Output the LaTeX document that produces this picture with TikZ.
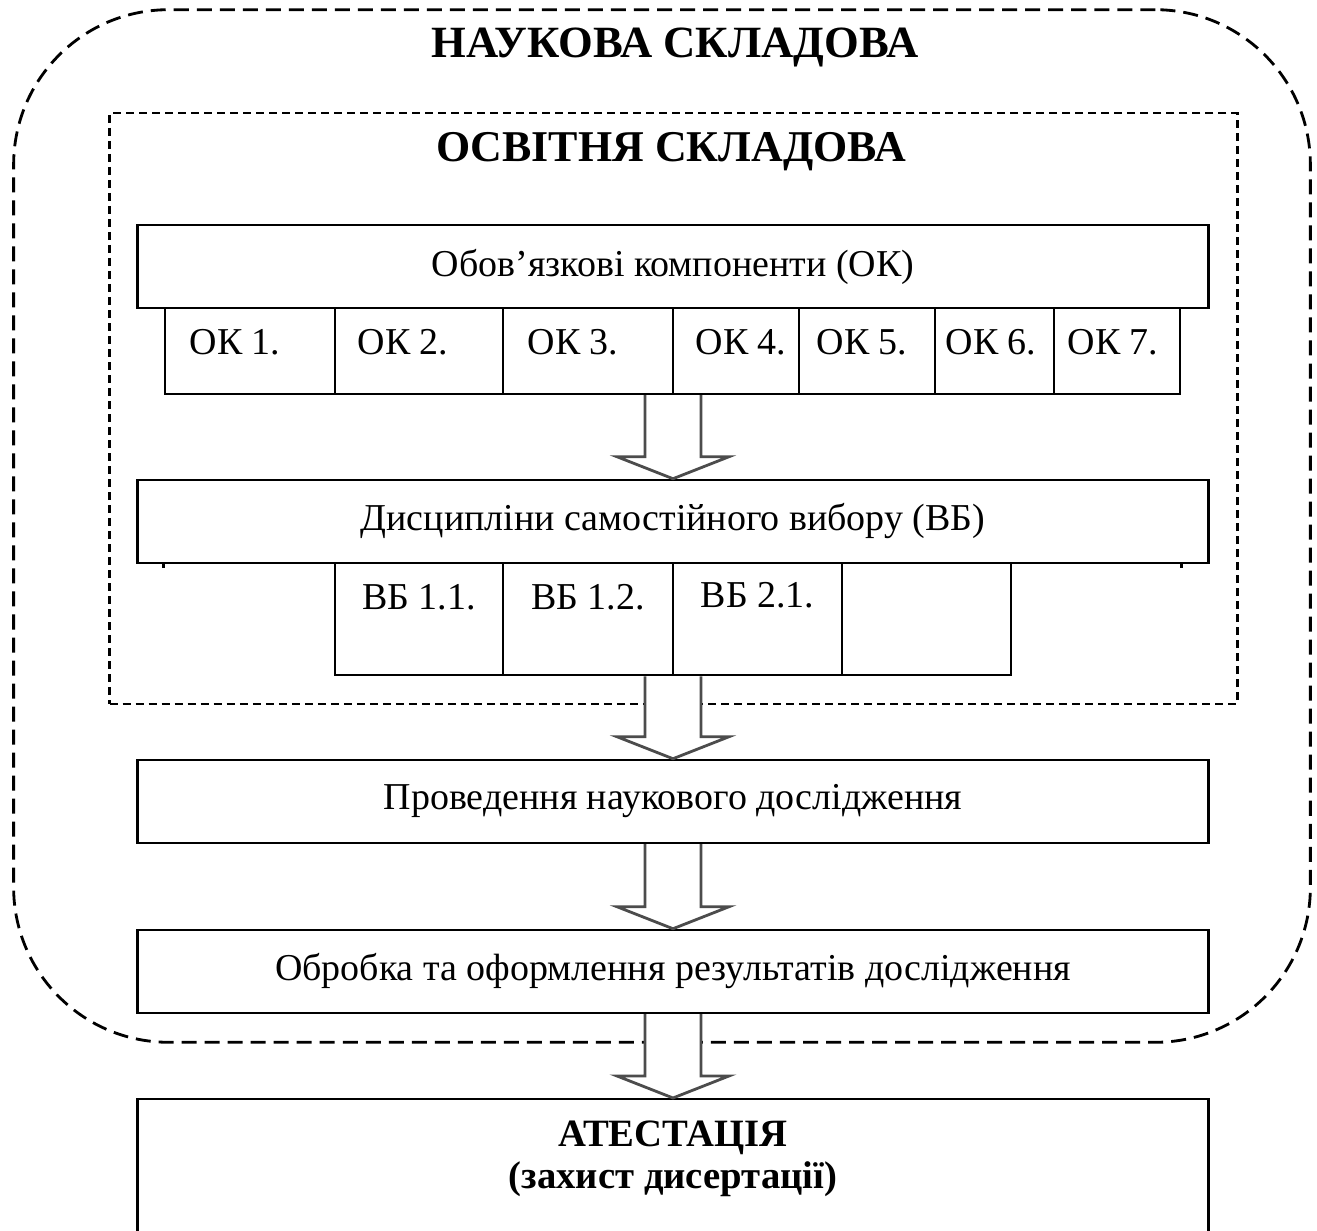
\documentclass[tikz,border=0pt]{standalone}
\usepackage{fontspec}
\setmainfont{Liberation Serif}
\usetikzlibrary{calc}

\tikzset{
  box/.style={draw, line width=0.7pt, minimum width=10.7cm, minimum height=0.83cm, inner sep=0pt, font=\fontsize{10.8}{13}\selectfont},
  cell/.style={draw, line width=0.7pt, inner sep=0pt, font=\fontsize{10.8}{13}\selectfont},
  celltext/.style={inner sep=0pt, text height=1.6ex, text depth=0.3ex, font=\fontsize{10.8}{13}\selectfont},
  heading/.style={inner sep=0pt, font=\fontsize{12.7}{15}\selectfont\bfseries},
  bigarrow/.style={draw=black!70, line width=0.8pt, fill=white, line join=miter},
  outerframe/.style={draw, line width=0.8pt, dash pattern=on 0.15cm off 0.08cm, rounded corners=1.55cm, inner sep=0pt},
  innerframe/.style={draw, line width=0.7pt, dash pattern=on 0.08cm off 0.05cm, inner sep=0pt},
}

% block arrow from a coordinate down to the top of a node
\newcommand{\blockarrow}[2]{%
  \draw[bigarrow] ($(#1)+(-28,0)$) -- ($(#2.north)+(-28,-22)$) -- ($(#2.north)+(-56,-22)$)
    -- (#2.north) -- ($(#2.north)+(56,-22)$) -- ($(#2.north)+(28,-22)$) -- ($(#1)+(28,0)$);}

\begin{document}
\begin{tikzpicture}[x=0.01cm, y=-0.01cm]
  \clip (0,0) rectangle (1317,1231);

  % Frames
  \node[outerframe, minimum width=12.96cm, minimum height=10.32cm] (nauk) at (662,526) {};
  \node[innerframe, minimum width=11.27cm, minimum height=5.91cm] (osv) at (673.5,408.5) {};

  \node[heading] (tnauk) at (675,47) {НАУКОВА СКЛАДОВА};
  \node[heading, font=\fontsize{12.5}{15}\selectfont\bfseries] (tosv) at (671,152) {ОСВІТНЯ СКЛАДОВА};

  % Obligatory components
  \node[box] (obov) at (673,266.5) {Обов’язкові компоненти (ОК)};

  \begin{scope}[every node/.append style={minimum height=0.86cm}]
    \node[cell, minimum width=1.70cm] (ok1) at (250,351) {};
    \node[cell, minimum width=1.68cm] (ok2) at (419,351) {};
    \node[cell, minimum width=1.70cm] (ok3) at (588,351) {};
    \node[cell, minimum width=1.26cm] (ok4) at (736,351) {};
    \node[cell, minimum width=1.36cm] (ok5) at (867,351) {};
    \node[cell, minimum width=1.19cm] (ok6) at (994.5,351) {};
    \node[cell, minimum width=1.26cm] (ok7) at (1117,351) {};
  \end{scope}

  \node[celltext] (tok1) at (235,344) {ОК 1.};
  \node[celltext] (tok2) at (403,344) {ОК 2.};
  \node[celltext] (tok3) at (573,344) {ОК 3.};
  \node[celltext] (tok4) at (741,344) {ОК 4.};
  \node[celltext] (tok5) at (862,344) {ОК 5.};
  \node[celltext] (tok6) at (991,344) {ОК 6.};
  \node[celltext] (tok7) at (1113,344) {ОК 7.};

  % Elective disciplines
  \node[box] (dysc) at (673,521.5) {Дисципліни самостійного вибору (ВБ)};
  \draw[line width=0.7pt] (ok1.south west |- dysc.south) -- ++(0,4);
  \draw[line width=0.7pt] (ok7.south east |- dysc.south) -- ++(0,4);

  \begin{scope}[every node/.append style={minimum height=1.12cm}]
    \node[cell, minimum width=1.68cm] (vb1) at (419,619) {};
    \node[cell, minimum width=1.70cm] (vb2) at (588,619) {};
    \node[cell, minimum width=1.69cm] (vb3) at (757.5,619) {};
    \node[cell, minimum width=1.69cm] (vb4) at (926.5,619) {};
  \end{scope}

  \node[celltext] (tvb1) at ($(vb1.north)+(0,37)$) {ВБ 1.1.};
  \node[celltext] (tvb2) at ($(vb2.north)+(0,37)$) {ВБ 1.2.};
  \node[celltext] (tvb3) at ($(vb3.north)+(0,35)$) {ВБ 2.1.};

  % Research
  \node[box] (prov) at (673,801.5) {Проведення наукового дослідження};
  \node[box] (obr) at (673,971.5) {Обробка та оформлення результатів дослідження};

  % Attestation
  \node[box, minimum height=1.62cm, anchor=north] (atest) at (673,1098) {};
  \node[heading, align=center, font=\fontsize{11}{12}\selectfont\bfseries] (tatest) at (673,1159)
    {АТЕСТАЦІЯ\\(захист дисертації)};

  % Arrows
  \coordinate (okbot) at (obov.south |- ok1.south);
  \coordinate (vbbot) at (dysc.south |- vb1.south);
  \blockarrow{okbot}{dysc}
  \blockarrow{vbbot}{prov}
  \blockarrow{prov.south}{obr}
  \blockarrow{obr.south}{atest}

\end{tikzpicture}
\end{document}
